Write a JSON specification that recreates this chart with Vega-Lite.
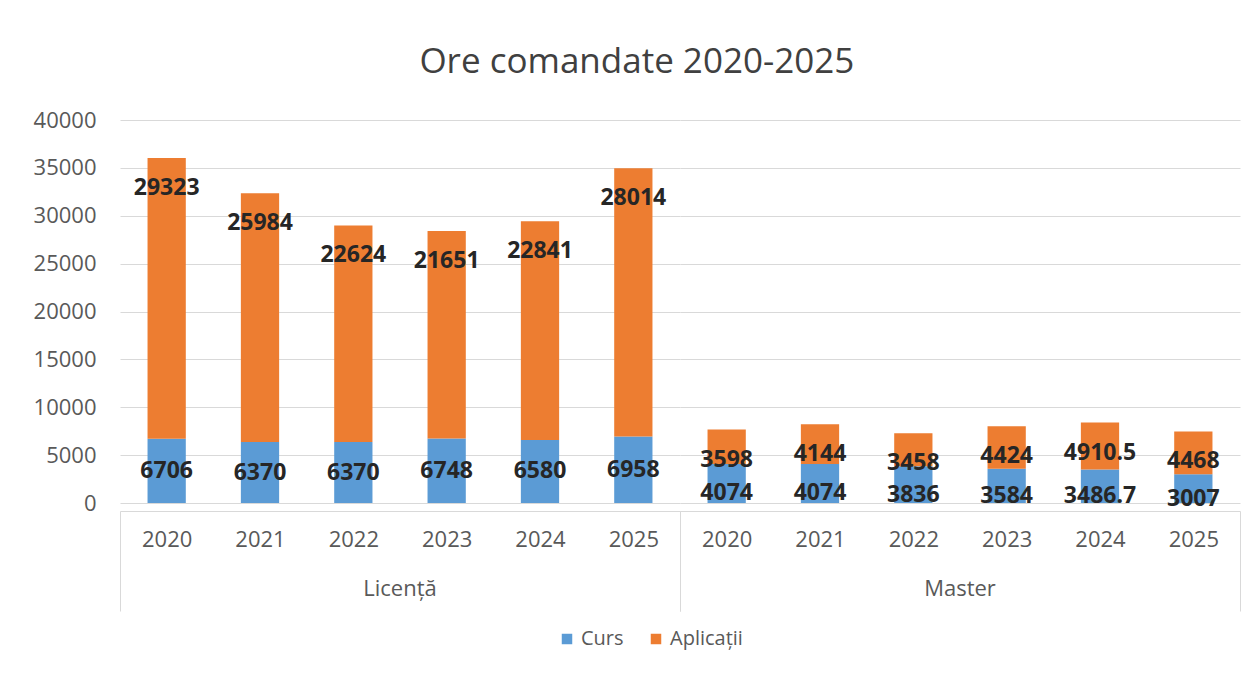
{
  "$schema": "https://vega.github.io/schema/vega-lite/v6.json",
  "padding": {"left": 33, "top": 45, "right": 20, "bottom": 10},
  "background": "white",
  "title": {"text": "Ore comandate 2020-2025", "fontSize": 35, "font": "Open Sans", "fontWeight": "normal", "color": "#404040", "anchor": "middle", "offset": 29},
  "data": {"values": [
    {"grup": "Licență", "an": "2020", "tip": "Curs", "ore": 6706},
    {"grup": "Licență", "an": "2020", "tip": "Aplicații", "ore": 29323},
    {"grup": "Licență", "an": "2021", "tip": "Curs", "ore": 6370},
    {"grup": "Licență", "an": "2021", "tip": "Aplicații", "ore": 25984},
    {"grup": "Licență", "an": "2022", "tip": "Curs", "ore": 6370},
    {"grup": "Licență", "an": "2022", "tip": "Aplicații", "ore": 22624},
    {"grup": "Licență", "an": "2023", "tip": "Curs", "ore": 6748},
    {"grup": "Licență", "an": "2023", "tip": "Aplicații", "ore": 21651},
    {"grup": "Licență", "an": "2024", "tip": "Curs", "ore": 6580},
    {"grup": "Licență", "an": "2024", "tip": "Aplicații", "ore": 22841},
    {"grup": "Licență", "an": "2025", "tip": "Curs", "ore": 6958},
    {"grup": "Licență", "an": "2025", "tip": "Aplicații", "ore": 28014},
    {"grup": "Master", "an": "2020", "tip": "Curs", "ore": 4074},
    {"grup": "Master", "an": "2020", "tip": "Aplicații", "ore": 3598},
    {"grup": "Master", "an": "2021", "tip": "Curs", "ore": 4074},
    {"grup": "Master", "an": "2021", "tip": "Aplicații", "ore": 4144},
    {"grup": "Master", "an": "2022", "tip": "Curs", "ore": 3836},
    {"grup": "Master", "an": "2022", "tip": "Aplicații", "ore": 3458},
    {"grup": "Master", "an": "2023", "tip": "Curs", "ore": 3584},
    {"grup": "Master", "an": "2023", "tip": "Aplicații", "ore": 4424},
    {"grup": "Master", "an": "2024", "tip": "Curs", "ore": 3486.7},
    {"grup": "Master", "an": "2024", "tip": "Aplicații", "ore": 4910.5},
    {"grup": "Master", "an": "2025", "tip": "Curs", "ore": 3007},
    {"grup": "Master", "an": "2025", "tip": "Aplicații", "ore": 4468}
  ]},
  "transform": [
    {"calculate": "datum.tip === 'Curs' ? 0 : 1", "as": "ord"},
    {"joinaggregate": [{"op": "sum", "field": "ore", "as": "total"}], "groupby": ["grup", "an"]},
    {"calculate": "datum.ore / 2", "as": "mid"}
  ],
  "facet": {"column": {"field": "grup", "type": "nominal", "sort": ["Licență", "Master"],
    "header": {"title": null, "labelOrient": "bottom", "labelFontSize": 22, "labelFont": "Open Sans", "labelColor": "#595959", "labelPadding": -33}}},
  "spacing": 0,
  "spec": {
    "width": 560,
    "height": 383,
    "layer": [
      {
        "mark": {"type": "bar", "width": {"band": 0.41}},
        "encoding": {
          "x": {"field": "an", "type": "ordinal", "title": null,
            "scale": {"paddingInner": 0, "paddingOuter": 0},
            "axis": {"title": null, "labelAngle": 0, "labelFontSize": 22, "labelFont": "Open Sans", "labelColor": "#595959",
              "domainColor": "#d9d9d9", "tickBand": "extent", "tickSize": 100, "labelPadding": -82,
              "tickColor": {"condition": {"test": "indexof(['2020','2021','2022','2023','2024'], datum.value) < 0", "value": "#d9d9d9"}, "value": "transparent"}}},
          "y": {"field": "ore", "type": "quantitative", "stack": "zero", "title": null,
            "scale": {"domain": [0, 40000]},
            "axis": {"title": null, "values": [0, 5000, 10000, 15000, 20000, 25000, 30000, 35000, 40000], "format": "d",
              "domain": false, "ticks": false, "labelFontSize": 22, "labelFont": "Open Sans", "labelColor": "#595959", "labelPadding": 24,
              "gridColor": "#d9d9d9"}},
          "color": {"field": "tip", "type": "nominal",
            "scale": {"domain": ["Curs", "Aplicații"], "range": ["#5B9BD5", "#ED7D31"]},
            "legend": {"orient": "none", "legendX": 437, "legendY": 509, "direction": "horizontal", "title": null, "symbolType": "square", "symbolSize": 110,
              "labelFontSize": 20, "labelFont": "Open Sans", "labelColor": "#595959", "columnPadding": 22}},
          "order": {"field": "ord"}
        }
      },
      {
        "transform": [{"filter": "datum.tip === 'Curs' && datum.grup === 'Licență'"}],
        "mark": {"type": "text", "fontWeight": "bold", "fontSize": 23, "font": "Open Sans", "color": "#262626", "baseline": "middle"},
        "encoding": {
          "x": {"field": "an", "type": "ordinal"},
          "y": {"field": "mid", "type": "quantitative", "title": null},
          "text": {"field": "ore", "type": "nominal"}
        }
      },
      {
        "transform": [{"filter": "datum.tip === 'Curs' && datum.grup === 'Master'"}],
        "mark": {"type": "text", "fontWeight": "bold", "fontSize": 23, "font": "Open Sans", "color": "#262626", "baseline": "middle", "dy": 10},
        "encoding": {
          "x": {"field": "an", "type": "ordinal"},
          "y": {"field": "mid", "type": "quantitative", "title": null},
          "text": {"field": "ore", "type": "nominal"}
        }
      },
      {
        "transform": [{"filter": "datum.tip === 'Aplicații'"}],
        "mark": {"type": "text", "fontWeight": "bold", "fontSize": 23, "font": "Open Sans", "color": "#262626", "baseline": "middle", "dy": 30},
        "encoding": {
          "x": {"field": "an", "type": "ordinal"},
          "y": {"field": "total", "type": "quantitative", "title": null},
          "text": {"field": "ore", "type": "nominal"}
        }
      }
    ]
  },
  "config": {
    "font": "Open Sans",
    "view": {"stroke": null}
  }
}
